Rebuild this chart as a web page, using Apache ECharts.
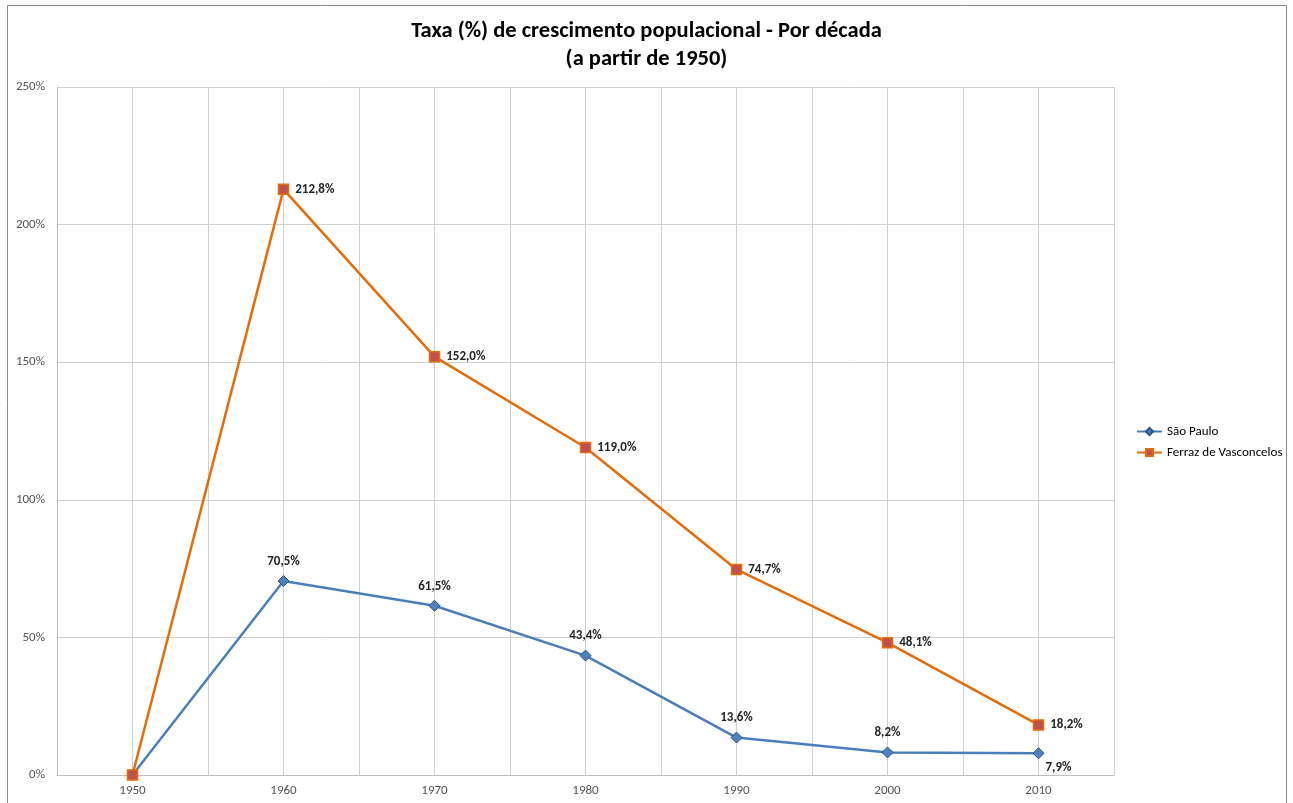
<!DOCTYPE html>
<html>
<head>
<meta charset="utf-8">
<script src="https://cdn.jsdelivr.net/npm/echarts@6/dist/echarts.min.js"></script>
<style>
html,body{margin:0;padding:0;background:#fff;}
#c{width:1293px;height:803px;}
</style>
</head>
<body>
<div id="c"></div>
<script>
const years = [1950, 1960, 1970, 1980, 1990, 2000, 2010];
const saoPaulo = [0, 70.5, 61.5, 43.4, 13.6, 8.2, 7.9];
const ferraz = [0, 212.8, 152.0, 119.0, 74.7, 48.1, 18.2];
const seriesNames = ['São Paulo', 'Ferraz de Vasconcelos'];
const titleLines = ['Taxa (%) de crescimento populacional - Por década', '(a partir de 1950)'];

const FONT = "Carlito, 'Liberation Sans Narrow', 'Open Sans', sans-serif";
const fmt = v => v.toFixed(1).replace('.', ',') + '%';

function pts(vals) {
  return years.map((y, i) => [y, vals[i]]);
}

const chart = echarts.init(document.getElementById('c'), null, {renderer: 'canvas'});

const spData = pts(saoPaulo).map((p, i) => {
  const item = {value: p};
  if (i === 0) item.label = {show: false};
  if (i === years.length - 1) item.label = {position: 'bottom', distance: 2, offset: [20, 0]};
  return item;
});
const fData = pts(ferraz).map((p, i) => {
  const item = {value: p};
  if (i === 0) item.label = {show: false};
  return item;
});

chart.setOption({
  animation: false,
  backgroundColor: '#fff',
  graphic: [{
    type: 'rect',
    shape: {x: 7.5, y: 5.5, width: 1279, height: 820},
    style: {fill: 'none', stroke: '#8c8c8c', lineWidth: 1},
    silent: true, z: -1
  }],
  title: {
    text: titleLines.join('\n'),
    left: 'center',
    top: 12,
    textStyle: {fontFamily: FONT, fontSize: 22.5, fontWeight: 'bold', color: '#000', lineHeight: 28}
  },
  legend: {
    orient: 'vertical',
    left: 1131,
    top: 420,
    itemGap: 8,
    itemWidth: 25,
    itemHeight: 9,
    textStyle: {fontFamily: FONT, fontSize: 13, color: '#000'},
    data: seriesNames
  },
  grid: {left: 57, right: 179, top: 87, bottom: 28, containLabel: false},
  xAxis: {
    type: 'value',
    min: 1945,
    max: 2015,
    interval: 5,
    axisLine: {show: true, lineStyle: {color: '#bfbfbf'}},
    axisTick: {show: false},
    splitLine: {show: true, lineStyle: {color: '#d0d0d0', width: 1}},
    axisLabel: {
      fontFamily: FONT, fontSize: 13, color: '#555', margin: 9,
      showMinLabel: false, showMaxLabel: false,
      formatter: v => (years.indexOf(v) >= 0 ? String(v) : '')
    }
  },
  yAxis: {
    type: 'value',
    min: 0,
    max: 250,
    interval: 50,
    axisLine: {show: true, lineStyle: {color: '#bfbfbf'}},
    axisTick: {show: false},
    splitLine: {show: true, lineStyle: {color: '#d0d0d0', width: 1}},
    axisLabel: {fontFamily: FONT, fontSize: 13, color: '#555', margin: 12, formatter: v => v + '%'}
  },
  series: [
    {
      name: seriesNames[0],
      type: 'line',
      data: spData,
      symbol: 'diamond',
      symbolSize: 11,
      lineStyle: {color: '#4a7ebb', width: 2.5},
      itemStyle: {color: '#4f81bd', borderColor: '#2c5282', borderWidth: 1},
      label: {
        show: true, position: 'top', distance: 7,
        fontFamily: FONT, fontSize: 13, fontWeight: 'bold', color: '#262626',
        formatter: p => fmt(p.value[1])
      },
      z: 3
    },
    {
      name: seriesNames[1],
      type: 'line',
      data: fData,
      symbol: 'rect',
      symbolSize: 10,
      lineStyle: {color: '#e46c0a', width: 2.5},
      itemStyle: {color: '#c0504d', borderColor: '#e46c0a', borderWidth: 1.5},
      label: {
        show: true, position: 'right', distance: 6,
        fontFamily: FONT, fontSize: 13, fontWeight: 'bold', color: '#262626',
        formatter: p => fmt(p.value[1])
      },
      z: 4
    }
  ]
});
</script>
</body>
</html>
